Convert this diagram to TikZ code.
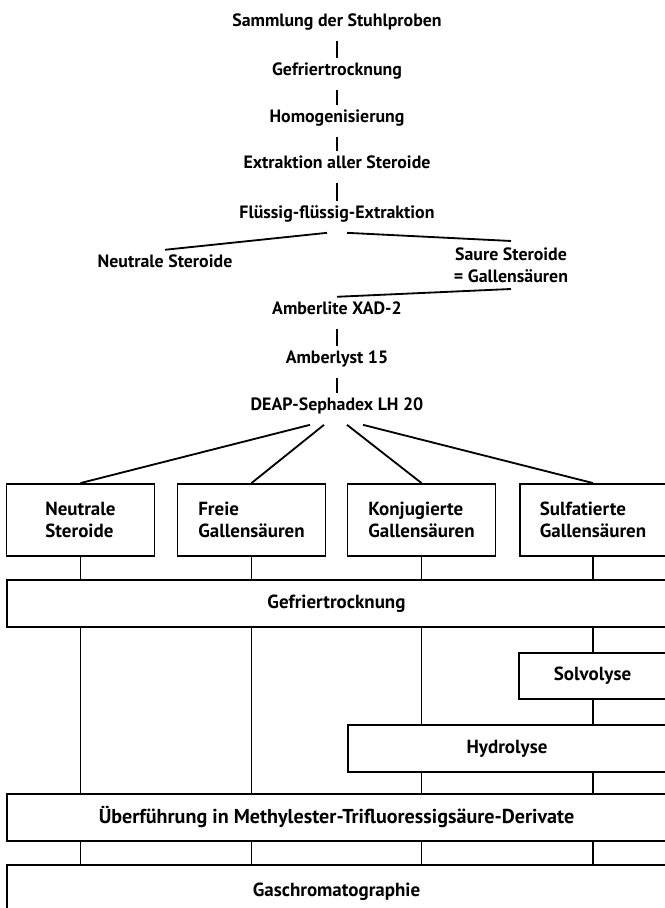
\documentclass[tikz,border=0pt]{standalone}
\usepackage{fontspec}
\setmainfont{PT Sans}
\begin{document}
\begin{tikzpicture}[line width=1.3pt,
  txt/.style={font=\fontsize{12.7}{15}\bfseries, anchor=base, text height=9.3pt, text depth=6.2pt, inner ysep=3pt},
  two/.style={font=\fontsize{12.7}{15.6}\bfseries, align=center, inner sep=4pt},
  bx/.style={draw, font=\fontsize{13.5}{15.6}\bfseries, align=left, inner sep=0pt}]
\useasboundingbox (0,0) rectangle (16.6,22.7);
% Aufarbeitung
\node[txt] (samm) at (8.425,22.025) {Sammlung der Stuhlproben};
\node[txt] (gefr) at (8.425,20.8) {Gefriertrocknung};
\node[txt] (homo) at (8.425,19.625) {Homogenisierung};
\node[txt] (extr) at (8.425,18.475) {Extraktion aller Steroide};
\node[txt] (flus) at (8.425,17.225) {Flüssig-flüssig-Extraktion};
\node[txt] (neut) at (4.125,16.0) {Neutrale Steroide};
\node[two] (saure) at (12.775,16.075) {Saure Steroide\\= Gallensäuren};
\node[txt] (amli) at (8.425,14.825) {Amberlite XAD-2};
\node[txt] (amly) at (8.425,13.6) {Amberlyst 15};
\node[txt] (deap) at (8.425,12.425) {DEAP-Sephadex LH 20};
\draw (samm.south) -- (gefr.north);
\draw (gefr.south) -- (homo.north);
\draw (homo.south) -- (extr.north);
\draw (extr.south) -- (flus.north);
\draw ([xshift=-0.25cm]flus.south) -- (neut.north);
\draw ([xshift=0.25cm]flus.south) -- (saure.north);
\draw (saure.south) -- (amli.north);
\draw (amli.south) -- (amly.north);
\draw (amly.south) -- (deap.north);
% Fraktionen
\node[bx, minimum width=3.7cm, minimum height=1.8cm] (n1) at (2.0125,9.7) {Neutrale\\Steroide};
\node[bx, minimum width=3.7cm, minimum height=1.8cm] (n2) at (6.2875,9.7) {Freie\\Gallensäuren};
\node[bx, minimum width=3.7cm, minimum height=1.8cm] (n3) at (10.5375,9.7) {Konjugierte\\Gallensäuren};
\node[bx, minimum width=3.65cm, minimum height=1.8cm] (n4) at (14.825,9.7) {Sulfatierte\\Gallensäuren};
\draw ([xshift=-0.675cm]deap.south) -- (n1.north);
\draw ([xshift=-0.325cm]deap.south) -- (n2.north);
\draw ([xshift=0.25cm]deap.south) -- (n3.north);
\draw ([xshift=0.65cm]deap.south) -- (n4.north);
% Analytik
\node[bx, minimum width=16.475cm, minimum height=1.175cm] (gt) at (8.4125,7.6125) {Gefriertrocknung};
\node[bx, minimum width=3.675cm, minimum height=1.15cm] (solv) at (14.8125,5.8) {Solvolyse};
\node[bx, minimum width=7.95cm, minimum height=1.175cm] (hydr) at (12.675,3.9875) {Hydrolyse};
\node[bx, minimum width=16.475cm, minimum height=1.175cm, font=\fontsize{14.3}{16}\bfseries] (ue) at (8.4125,2.2625) {Überführung in Methylester-Trifluoressigsäure-Derivate};
\node[bx, minimum width=16.475cm, minimum height=1.34cm] (gc) at (8.4125,0.405) {Gaschromatographie};
\foreach \n in {n1,n2,n3,n4}
  \draw (\n.south) -- (\n.south |- gt.north);
\draw (n1 |- gt.south) -- (n1 |- ue.north);
\draw (n2 |- gt.south) -- (n2 |- ue.north);
\draw (n3 |- gt.south) -- (n3 |- hydr.north);
\draw (n4 |- gt.south) -- (n4 |- solv.north);
\draw (n4 |- solv.south) -- (n4 |- hydr.north);
\draw (n3 |- hydr.south) -- (n3 |- ue.north);
\draw (n4 |- hydr.south) -- (n4 |- ue.north);
\foreach \n in {n1,n2,n3,n4}
  \draw (\n |- ue.south) -- (\n |- gc.north);
\end{tikzpicture}
\end{document}
